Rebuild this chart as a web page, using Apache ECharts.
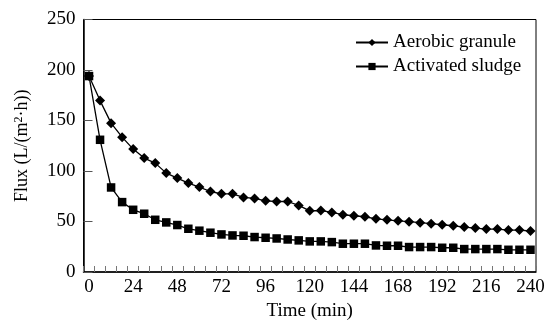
<!DOCTYPE html>
<html>
<head>
<meta charset="utf-8">
<script src="https://cdn.jsdelivr.net/npm/echarts@6/dist/echarts.min.js"></script>
<style>html,body{margin:0;padding:0;background:#fff}#c{width:547px;height:320px}</style>
</head>
<body>
<div id="c"></div>
<script>
var times = ['0','6','12','18','24','30','36','42','48','54','60','66','72','78','84','90','96','102','108','114','120','126','132','138','144','150','156','162','168','174','180','186','192','198','204','210','216','222','228','234','240'];
var aerobicGranule = [194,169.7,147.4,133.5,121.7,112.8,107.8,97.9,93,88,84.1,79.7,77.4,77.4,73.8,72.8,70.5,69.8,69.8,65.9,60.6,60.9,59,56.7,55.7,54.7,52.7,51.7,50.7,49.8,48.8,47.8,46.8,45.8,44.5,43.5,42.5,42.5,41.5,41.5,40.6];
var activatedSludge = [194,130.9,83.7,69.2,61.6,57.7,51.7,49.1,46.5,42.8,40.9,38.9,37.2,36.2,35.9,34.6,33.9,33.2,32.2,31.3,30.3,30.3,29.6,28,28,28,26.3,26,26,24.7,24.7,24.7,24,24,22.7,22.7,22.7,22.7,22,22,22];
var yTicks = [0,50,100,150,200,250];

var font = 'Liberation Serif';
var chart = echarts.init(document.getElementById('c'), null, {renderer:'canvas'});
chart.setOption({
  animation:false,
  backgroundColor:'#fff',
  grid:{left:83.5,right:11,top:19.5,bottom:48,outerBoundsMode:'none',containLabel:false,
        show:true,borderColor:'#000',borderWidth:1,backgroundColor:'transparent'},
  legend:{
    orient:'vertical', left:350, top:28, itemGap:5, itemWidth:32, itemHeight:9,
    textStyle:{fontFamily:font,fontSize:19,color:'#000'},
    data:['Aerobic granule','Activated sludge']
  },
  xAxis:{
    type:'category', data:times, boundaryGap:true,
    name:'Time (min)', nameLocation:'middle', nameGap:29,
    nameTextStyle:{fontFamily:font,fontSize:19,color:'#000'},
    axisLine:{lineStyle:{color:'#000',width:1.5}},
    axisTick:{show:true,inside:true,length:6,interval:0,lineStyle:{color:'#777',width:1}},
    axisLabel:{interval:3,fontFamily:font,fontSize:19,color:'#000',margin:6},
    splitLine:{show:false}
  },
  yAxis:{
    type:'value', min:yTicks[0], max:yTicks[yTicks.length-1], interval:50,
    name:'Flux (L/(m{sup|2}·h))', nameLocation:'middle', nameGap:52,
    nameTextStyle:{fontFamily:font,fontSize:18,color:'#000',
      rich:{sup:{fontFamily:font,fontSize:12,color:'#000',verticalAlign:'top',padding:[0,0,7,0]}}},
    axisLine:{show:true,lineStyle:{color:'#000',width:1.5}},
    axisTick:{show:true,inside:true,length:9,lineStyle:{color:'#555',width:1}},
    axisLabel:{fontFamily:font,fontSize:19,color:'#000',margin:8},
    splitLine:{show:false}
  },
  series:[
    {name:'Aerobic granule',type:'line',data:aerobicGranule,symbol:'diamond',symbolSize:10,showAllSymbol:true,
     lineStyle:{color:'#000',width:1.3},itemStyle:{color:'#000'}},
    {name:'Activated sludge',type:'line',data:activatedSludge,symbol:'rect',symbolSize:8.5,showAllSymbol:true,
     lineStyle:{color:'#000',width:1.3},itemStyle:{color:'#000'}}
  ]
});
</script>
</body>
</html>
